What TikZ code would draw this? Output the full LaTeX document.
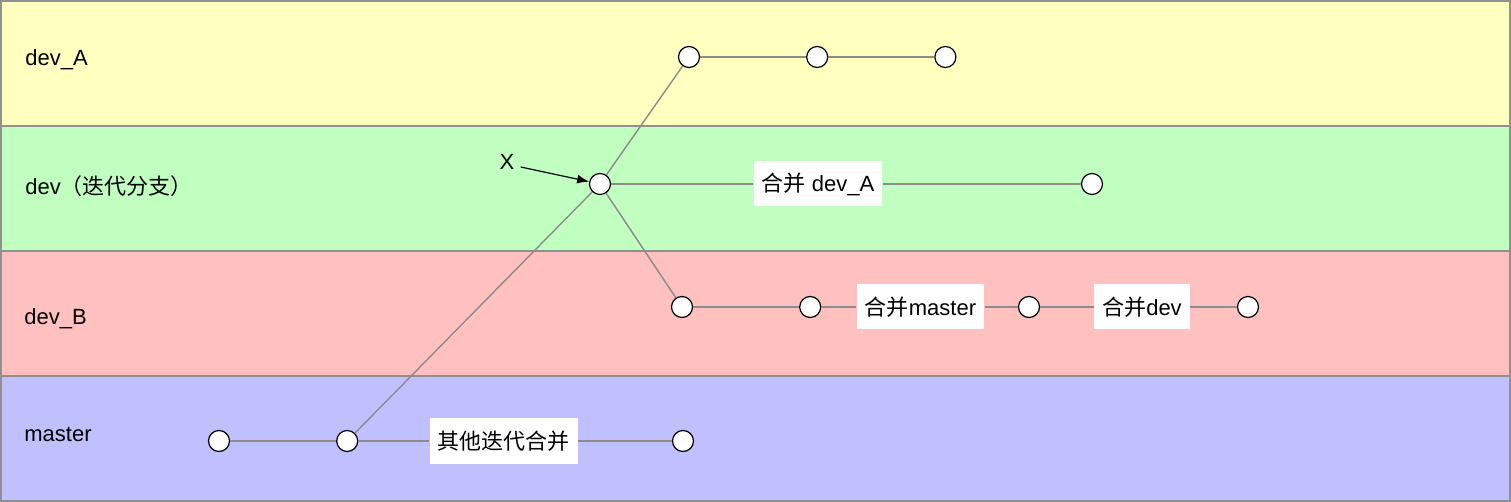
\documentclass[tikz,border=0pt]{standalone}
\usepackage{fontspec}
\setmainfont{Liberation Sans}
\newfontfamily\cjk{Noto Sans CJK SC}
\usetikzlibrary{positioning, arrows.meta}
\definecolor{laneA}{HTML}{FFFFC0}
\definecolor{laneDev}{HTML}{C0FFC0}
\definecolor{laneB}{HTML}{FFC0C0}
\definecolor{laneMaster}{HTML}{C0C0FF}
\definecolor{laneborder}{HTML}{909090}
\definecolor{branchline}{HTML}{8C8C8C}

\begin{document}
\begin{tikzpicture}[
		x=0.5pt, y=-0.5pt,
		lane/.style={draw=laneborder, line width=1pt},
		lanelabel/.style={anchor=west, inner sep=0pt, font=\fontsize{11}{13}\selectfont},
		commit/.style={circle, draw, fill=white, line width=0.6pt, inner sep=0pt, minimum size=10.5pt},
		merge/.style={rectangle, fill=white, inner xsep=4pt, inner ysep=0pt, minimum height=22.5pt, font=\fontsize{11}{13}\selectfont},
		pointer/.style={inner xsep=3pt, inner ysep=1pt, font=\fontsize{11}{13}\selectfont},
		branch/.style={draw=branchline, line width=0.7pt},
		>={Latex[length=6pt, width=4.5pt]}
	]

	\useasboundingbox (0,0) rectangle (1511,502);

	\foreach \c/\t/\b in {laneA/1/126, laneDev/126/251, laneB/251/376, laneMaster/376/501}
		\draw[lane, fill=\c] (1,\t) rectangle (1510,\b);

	\node[lanelabel] (lA) at (25,60) {dev\_A};
	\node[lanelabel] (lDev) at (25,186) {dev{\cjk （迭代分支）}};
	\node[lanelabel] (lB) at (24,319) {dev\_B};
	\node[lanelabel] (lMaster) at (24,434) {master};

	\node[commit] (a1) at (689,57) {};
	\node[commit, right=53pt of a1] (a2) {};
	\node[commit, right=53pt of a2] (a3) {};

	\node[commit] (dv1) at (600,184) {};
	\node[merge] (mA) at (818,184) {{\cjk 合并} dev\_A};
	\node[commit] (dv2) at (1092,184) {};

	\node[commit] (b1) at (682,307) {};
	\node[commit, right=53pt of b1] (b2) {};
	\node[merge] (mMaster) at (920.5,307) {{\cjk 合并}master};
	\node[commit] (b3) at (1029,307) {};
	\node[merge] (mDev) at (1142,307) {{\cjk 合并}dev};
	\node[commit] (b4) at (1248,307) {};

	\node[commit] (m1) at (219,441) {};
	\node[commit, right=53pt of m1] (m2) {};
	\node[merge] (mOther) at (503.5,441) {\cjk 其他迭代合并};
	\node[commit] (m3) at (683,441) {};

	\node[pointer] (xlab) at (507,162) {X};

	\foreach \i/\j in {a1/a2, a2/a3, dv1/mA, mA/dv2, b1/b2, b2/mMaster, mMaster/b3, b3/mDev, mDev/b4, m1/m2, m2/mOther, mOther/m3, m2/dv1, dv1/a1, dv1/b1}
		\draw[branch] (\i) -- (\j);

	\draw[->, line width=0.6pt] ([yshift=-2.5pt]xlab.east) -- (dv1);

\end{tikzpicture}
\end{document}
